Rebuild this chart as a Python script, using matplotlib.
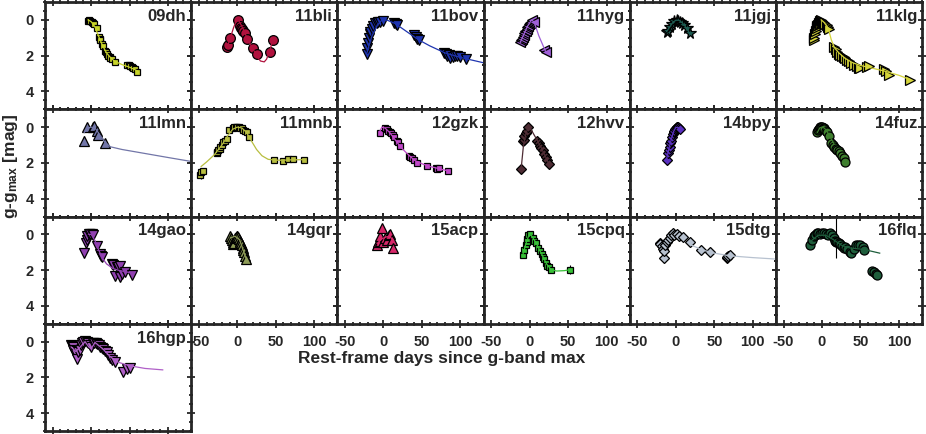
import matplotlib
matplotlib.use("Agg")
import matplotlib.pyplot as plt
from matplotlib.ticker import MultipleLocator

plt.rcParams['font.family'] = ['Liberation Sans', 'DejaVu Sans']
plt.rcParams['font.weight'] = 'bold'
plt.rcParams['axes.unicode_minus'] = False
plt.rcParams['mathtext.fontset'] = 'custom'
plt.rcParams['mathtext.rm'] = 'Liberation Sans:bold'
plt.rcParams['mathtext.it'] = 'Liberation Sans:bold'
plt.rcParams['mathtext.bf'] = 'Liberation Sans:bold'

INK = '#262626'

# ---- light curves (rest-frame days, g - g_max) ----
t_09dh = [-4, -3, -1, 1, 3, 4, 7, 10, 11, 12, 14, 16, 18, 19, 20, 22, 24, 25, 27, 31, 47, 49, 51, 53, 55, 57, 59]
m_09dh = [0.05, 0.0, 0.05, 0.1, 0.2, 0.25, 0.48, 0.95, 1.05, 1.15, 1.35, 1.45, 1.75, 1.8, 1.9, 2.0, 2.1, 2.15, 2.2, 2.35, 2.5, 2.55, 2.6, 2.65, 2.7, 2.75, 2.9]
ft_09dh = [-4, 0, 5, 10, 15, 20, 25, 30, 40, 50, 60]
fm_09dh = [0.0, 0.1, 0.4, 0.95, 1.45, 1.85, 2.1, 2.3, 2.5, 2.65, 2.85]

t_11bli = [-13, -12, -9, 1, 4, 5, 6, 7, 8, 10, 13, 20, 25, 43, 46]
m_11bli = [1.5, 1.4, 1.0, 0.0, 0.35, 0.45, 0.5, 0.6, 0.6, 0.75, 1.05, 1.55, 1.9, 1.8, 1.15]
ft_11bli = [-13, -9, -5, -2, 1, 4, 8, 13, 20, 25, 30, 35, 38, 42, 46]
fm_11bli = [1.5, 1.0, 0.45, 0.12, 0.0, 0.2, 0.55, 1.05, 1.6, 2.0, 2.3, 2.35, 2.2, 1.75, 1.15]

t_11bov = [-22, -21, -20, -19, -18, -17, -15, -13, -11, -9, -7, -5, 0, 14, 16, 18, 40, 42, 44, 46, 79, 81, 83, 85, 87, 90, 93, 96, 100, 107]
m_11bov = [1.9, 1.6, 1.3, 1.0, 0.8, 0.7, 0.5, 0.35, 0.2, 0.15, 0.1, 0.1, 0.05, 0.15, 0.25, 0.3, 0.85, 0.95, 1.05, 1.15, 1.85, 1.9, 2.0, 1.95, 2.15, 2.05, 2.0, 2.0, 2.05, 2.2]
ft_11bov = [-22, -15, -8, -3, 0, 5, 15, 25, 35, 45, 60, 80, 100, 130]
fm_11bov = [1.9, 0.9, 0.3, 0.05, 0.0, 0.02, 0.2, 0.5, 0.8, 1.1, 1.45, 1.85, 2.1, 2.4]

t_11hyg = [-12, -11, -10, -9, -8, -7, -6, -5, -4, -3, -2, -1, 0, 1, 2, 3, 5, 19, 21]
m_11hyg = [1.25, 1.15, 1.05, 0.95, 0.85, 0.75, 0.65, 0.6, 0.5, 0.4, 0.35, 0.25, 0.2, 0.15, 0.1, 0.0, 0.1, 1.7, 1.8]
ft_11hyg = [-12, -6, -2, 1, 3, 6, 12, 21]
fm_11hyg = [1.25, 0.65, 0.3, 0.1, 0.0, 0.15, 0.9, 1.8]

t_11jgj = [-12, -10, -8, -5, -2, 1, 3, 5, 8, 11, 14, 18]
m_11jgj = [0.7, 0.6, 0.4, 0.25, 0.05, 0.0, 0.05, 0.1, 0.2, 0.3, 0.45, 0.75]
ft_11jgj = [-12, -8, -4, 0, 4, 8, 12, 18]
fm_11jgj = [0.65, 0.4, 0.15, 0.02, 0.02, 0.15, 0.35, 0.75]

t_11klg = [-11, -10, -9, -8, -7, -6, -5, -4, -3, -2, -1, 0, 1, 2, 3, 4, 6, 8, 9, 15, 18, 20, 22, 24, 26, 28, 30, 33, 35, 38, 42, 45, 48, 50, 58, 61, 80, 83, 87, 115]
m_11klg = [1.15, 1.0, 0.8, 0.6, 0.45, 0.35, 0.3, 0.2, 0.15, 0.05, 0.0, 0.05, 0.1, 0.15, 0.2, 0.25, 0.3, 0.4, 0.5, 1.5, 1.65, 1.8, 1.9, 1.95, 2.0, 2.05, 2.15, 2.25, 2.3, 2.4, 2.55, 2.6, 2.7, 2.7, 2.65, 2.6, 2.75, 2.85, 3.1, 3.35]
ft_11klg = [-1, 3, 8, 12, 16, 22, 30, 40, 50, 60, 80, 100, 115]
fm_11klg = [0.0, 0.15, 0.45, 1.1, 1.55, 1.85, 2.15, 2.4, 2.55, 2.65, 2.85, 3.1, 3.35]

t_11lmn = [-9, -5, 3, 4, 7, 9, 18]
m_11lmn = [0.78, 0.0, 0.0, -0.05, 0.2, 0.45, 0.9]
ft_11lmn = [-9, -5, 0, 5, 10, 18, 25, 40, 60, 80, 100, 130]
fm_11lmn = [0.3, 0.05, 0.0, 0.05, 0.35, 0.85, 1.1, 1.25, 1.4, 1.55, 1.7, 1.92]

t_11mnb = [-48, -47, -45, -27, -26, -25, -23, -22, -20, -18, -16, -13, -11, -6, -4, -2, 0, 2, 4, 6, 8, 10, 12, 15, 48, 60, 66, 73, 87]
m_11mnb = [2.7, 2.5, 2.45, 1.45, 1.4, 1.3, 1.2, 1.1, 1.0, 0.85, 0.75, 0.65, 0.15, 0.05, 0.0, 0.0, 0.0, 0.0, 0.05, 0.05, 0.15, 0.2, 0.3, 0.55, 1.83, 1.87, 1.77, 1.77, 1.83]
ft_11mnb = [-47, -40, -30, -20, -12, -6, 0, 6, 12, 18, 25, 32, 40, 50, 60, 70, 87]
fm_11mnb = [2.2, 1.95, 1.55, 1.0, 0.45, 0.12, 0.0, 0.05, 0.3, 0.75, 1.25, 1.6, 1.8, 1.85, 1.85, 1.83, 1.82]

t_12gzk = [-5, 2, 4, 6, 8, 10, 12, 14, 17, 19, 21, 33, 35, 37, 40, 44, 57, 68, 70, 72, 84]
m_12gzk = [0.35, 0.05, 0.1, 0.2, 0.25, 0.35, 0.45, 0.55, 0.75, 0.85, 1.05, 1.6, 1.65, 1.7, 1.85, 2.0, 2.2, 2.28, 2.32, 2.3, 2.45]
ft_12gzk = [-5, -2, 2, 8, 15, 22, 30, 40, 50, 60, 70, 84]
fm_12gzk = [0.25, 0.0, 0.05, 0.3, 0.7, 1.1, 1.45, 1.85, 2.05, 2.2, 2.3, 2.45]

t_12hvv = [-11, -9, -8, -7, -5, -4, -2, 10, 12, 14, 15, 17, 19, 21, 23, 25]
m_12hvv = [2.33, 0.8, 0.7, 0.5, 0.35, 0.2, 0.0, 0.75, 0.9, 1.05, 1.15, 1.3, 1.5, 1.65, 1.85, 2.05]
ft_12hvv = [-11, -8, -5, -2, 2, 6, 10, 15, 20, 25]
fm_12hvv = [2.3, 1.0, 0.4, 0.0, 0.15, 0.45, 0.75, 1.15, 1.6, 2.05]

t_14bpy = [-12, -10, -9, -8, -7, -6, -5, -4, -3, -2, -1, 0, 1, 2, 3, 4, 5]
m_14bpy = [1.83, 1.45, 1.3, 1.1, 0.9, 0.75, 0.55, 0.4, 0.3, 0.2, 0.1, 0.05, 0.0, 0.0, 0.02, 0.05, 0.1]
ft_14bpy = [-12, -9, -6, -3, 0, 3, 5]
fm_14bpy = [1.8, 1.2, 0.7, 0.25, 0.02, 0.02, 0.1]

t_14fuz = [-6, -5, -4, -3, -2, -1, 0, 1, 2, 3, 5, 7, 9, 12, 14, 16, 18, 20, 22, 24, 26, 28, 30]
m_14fuz = [0.3, 0.15, 0.1, 0.05, 0.0, 0.0, 0.0, 0.05, 0.05, 0.1, 0.2, 0.3, 0.5, 0.9, 1.0, 1.1, 1.2, 1.3, 1.35, 1.45, 1.6, 1.75, 1.95]
ft_14fuz = [-6, -3, 0, 3, 6, 10, 15]
fm_14fuz = [0.3, 0.05, 0.0, 0.05, 0.2, 0.5, 0.9]

t_14gao = [-9, -7, -6, -5, -3, -1, 1, 3, 7, 11, 13, 14, 27, 29, 31, 33, 35, 37, 38, 40, 44, 53]
m_14gao = [1.05, 0.5, 0.3, 0.1, 0.0, -0.03, 0.0, 0.05, 0.65, 1.1, 1.2, 1.25, 1.65, 1.7, 2.35, 1.8, 1.85, 2.4, 1.75, 2.2, 2.1, 2.25]
ft_14gao = [-3, 0, 5, 10, 15, 20, 28, 35, 45, 53]
fm_14gao = [0.0, 0.0, 0.35, 0.9, 1.35, 1.65, 1.9, 2.0, 2.1, 2.15]

t_14gqr = [-9, -8, -7, -6, -5, -4, -3, -2, -1, 0, 1, 2, 3, 4, 5, 6, 7, 8, 9, 10, 11]
m_14gqr = [0.1, 0.2, 0.3, 0.45, 0.55, 0.5, 0.2, 0.15, 0.1, 0.1, 0.15, 0.25, 0.35, 0.4, 0.5, 0.6, 0.75, 0.9, 1.0, 1.2, 1.35]
ft_14gqr = [-9, -3, 3, 11]
fm_14gqr = [0.2, 0.1, 0.3, 1.3]

t_15acp = [-8, -7, -5, -4, -2, 0, 2, 4, 7, 9, 11, 13]
m_15acp = [0.57, 0.45, 0.35, 0.1, -0.37, 0.4, 0.2, 0.3, 0.05, 0.0, 0.3, 0.76]
ft_15acp = [-8, -2, 3, 8, 13]
fm_15acp = [0.5, 0.25, 0.15, 0.1, 0.35]

t_15cpq = [-9, -7, -5, -4, -3, -2, 0, 4, 6, 8, 11, 14, 16, 17, 19, 21, 23, 25, 28, 52]
m_15cpq = [1.13, 0.9, 0.6, 0.4, 0.25, 0.05, 0.0, 0.2, 0.35, 0.5, 0.75, 0.95, 1.1, 1.25, 1.4, 1.6, 1.75, 1.85, 1.98, 1.98]
ft_15cpq = [-9, -4, -1, 2, 8, 15, 22, 28, 35, 45, 52]
fm_15cpq = [1.15, 0.4, 0.05, 0.05, 0.45, 1.05, 1.65, 1.98, 2.05, 2.03, 1.98]

t_15dtg = [-21, -20, -18, -17, -16, -15, -14, -12, -10, -8, -6, -4, -2, 1, 4, 9, 18, 33, 44, 66, 67, 68, 70]
m_15dtg = [0.48, 0.55, 0.65, 0.8, 1.32, 0.95, 0.6, 0.45, 0.3, 0.2, 0.05, -0.08, 0.05, 0.0, 0.1, 0.15, 0.4, 0.85, 1.0, 1.32, 1.25, 1.2, 1.13]
ft_15dtg = [20, 35, 50, 70, 100, 130]
fm_15dtg = [0.6, 0.88, 1.05, 1.2, 1.3, 1.38]

t_16flq = [-15, -13, -11, -9, -7, -5, -2, 0, 2, 5, 8, 11, 13, 15, 17, 18, 20, 22, 24, 26, 28, 30, 33, 36, 38, 41, 44, 47, 50, 53, 55, 65, 67, 70, 72]
m_16flq = [0.57, 0.3, 0.1, 0.05, -0.05, -0.08, 0.0, -0.05, -0.08, 0.0, 0.05, -0.08, 0.05, 0.2, 0.35, 0.4, 0.45, 0.5, 0.55, 0.65, 0.75, 0.7, 0.8, 1.0, 1.05, 0.8, 0.57, 0.6, 0.57, 0.7, 0.85, 2.07, 2.1, 2.2, 2.26]
ft_16flq = [-15, -5, 5, 15, 25, 35, 45, 55, 65, 75]
fm_16flq = [0.4, 0.05, 0.05, 0.3, 0.6, 0.75, 0.8, 0.85, 0.95, 1.05]

t_16hgp = [-26, -25, -24, -23, -22, -21, -20, -19, -17, -15, -13, -12, -10, -8, -6, -4, -2, 0, 2, 4, 6, 8, 10, 12, 14, 16, 18, 20, 22, 24, 27, 31, 42, 46, 51]
m_16hgp = [0.2, 0.25, 0.3, 0.45, 0.6, 0.5, 0.7, 0.95, 0.6, 0.45, 0.2, 0.05, 0.0, -0.05, 0.0, 0.1, 0.2, 0.3, 0.1, 0.05, 0.05, 0.15, 0.2, 0.3, 0.35, 0.4, 0.5, 0.6, 0.75, 0.9, 1.0, 1.15, 1.7, 1.55, 1.5]
ft_16hgp = [-26, -20, -13, -8, -3, 0, 5, 15, 25, 35, 50, 70, 93]
fm_16hgp = [0.3, 0.55, 0.25, 0.0, 0.3, 0.4, 0.05, 0.4, 0.85, 1.15, 1.35, 1.5, 1.58]

# a few points with visible error bars: (name, day, mag, err)
err_pts = [('11lmn', -9, 0.78, 0.3), ('11mnb', -47, 2.6, 0.3), ('14gqr', 11, 1.35, 0.3),
           ('15cpq', 52, 1.98, 0.25), ('16flq', 17.7, 0.2, 1.1)]

names = ['09dh', '11bli', '11bov', '11hyg', '11jgj', '11klg',
         '11lmn', '11mnb', '12gzk', '12hvv', '14bpy', '14fuz',
         '14gao', '14gqr', '15acp', '15cpq', '15dtg', '16flq', '16hgp']
colors = ['#c8d42a', '#b0123e', '#1f35b0', '#a060d8', '#1e5c52', '#d5d53a',
          '#7276a8', '#b8be40', '#c048c8', '#4e2c34', '#5a30c0', '#3f7f2f',
          '#9040b0', '#8e9c58', '#d8286a', '#38c038', '#b8c2d0', '#1f5e3c', '#b060c8']
markers = ['s', 'o', 'v', '<', '*', '>',
           '^', 's', 's', 'D', 'D', 'o',
           'v', '^', '^', 's', 'D', 'o', 'v']
sizes = [5, 7, 7, 7, 8.5, 7, 7.5, 5, 5, 5.5, 5.5, 6.5, 7, 7, 7, 5, 5.5, 6.5, 7]

data = {
    '09dh': (t_09dh, m_09dh, ft_09dh, fm_09dh), '11bli': (t_11bli, m_11bli, ft_11bli, fm_11bli),
    '11bov': (t_11bov, m_11bov, ft_11bov, fm_11bov), '11hyg': (t_11hyg, m_11hyg, ft_11hyg, fm_11hyg),
    '11jgj': (t_11jgj, m_11jgj, ft_11jgj, fm_11jgj), '11klg': (t_11klg, m_11klg, ft_11klg, fm_11klg),
    '11lmn': (t_11lmn, m_11lmn, ft_11lmn, fm_11lmn), '11mnb': (t_11mnb, m_11mnb, ft_11mnb, fm_11mnb),
    '12gzk': (t_12gzk, m_12gzk, ft_12gzk, fm_12gzk), '12hvv': (t_12hvv, m_12hvv, ft_12hvv, fm_12hvv),
    '14bpy': (t_14bpy, m_14bpy, ft_14bpy, fm_14bpy), '14fuz': (t_14fuz, m_14fuz, ft_14fuz, fm_14fuz),
    '14gao': (t_14gao, m_14gao, ft_14gao, fm_14gao), '14gqr': (t_14gqr, m_14gqr, ft_14gqr, fm_14gqr),
    '15acp': (t_15acp, m_15acp, ft_15acp, fm_15acp), '15cpq': (t_15cpq, m_15cpq, ft_15cpq, fm_15cpq),
    '15dtg': (t_15dtg, m_15dtg, ft_15dtg, fm_15dtg), '16flq': (t_16flq, m_16flq, ft_16flq, fm_16flq),
    '16hgp': (t_16hgp, m_16hgp, ft_16hgp, fm_16hgp),
}

fig = plt.figure(figsize=(9.26, 4.34), dpi=100)
gs = fig.add_gridspec(4, 6, left=45/926, right=922/926, top=1-2/434, bottom=1-431/434,
                      wspace=0, hspace=0)

for i, name in enumerate(names):
    r, c = divmod(i, 6)
    ax = fig.add_subplot(gs[r, c])
    t, m, ft, fm = data[name]
    for (n, et, em, ee) in err_pts:
        if n == name:
            ax.errorbar([et], [em], yerr=[ee], fmt='none', ecolor='k', elinewidth=0.8, zorder=2)
    ax.plot(t, m, ls='none', marker=markers[i], ms=sizes[i], mfc=colors[i], mec='k', mew=0.9, zorder=3)
    ax.plot(ft, fm, color=colors[i], lw=0.9, zorder=4)

    ax.set_xlim(-60, 130)
    ax.set_ylim(5, -1)
    ax.xaxis.set_major_locator(MultipleLocator(50))
    ax.xaxis.set_minor_locator(MultipleLocator(10))
    ax.yaxis.set_major_locator(MultipleLocator(2))
    ax.yaxis.set_minor_locator(MultipleLocator(0.5))
    ax.tick_params(which='both', direction='inout', top=True, right=True, color=INK,
                   width=1.3, labelsize=10.5, labelcolor=INK)
    ax.tick_params(which='major', length=6, pad=5)
    ax.tick_params(which='minor', length=3.5)
    for s in ax.spines.values():
        s.set_linewidth(2.0)
        s.set_color(INK)

    if c != 0:
        ax.set_yticklabels([])
    show_x = (r == 2 and c > 0)
    if not show_x:
        ax.set_xticklabels([])

    ax.text(0.965, 0.935, name, transform=ax.transAxes, ha='right', va='top',
            fontsize=12, fontweight='bold', color=INK)

fig.text(0.477, 1 - 358/434, 'Rest-frame days since g-band max', ha='center', va='center',
         fontsize=12.5, fontweight='bold', color=INK)
fig.text(11/926, 1 - 166/434, r'g-g$_{\mathrm{max}}$ [mag]', rotation=90, ha='center', va='center',
         fontsize=12.5, fontweight='bold', color=INK)

fig.savefig('out.png', dpi=100)
